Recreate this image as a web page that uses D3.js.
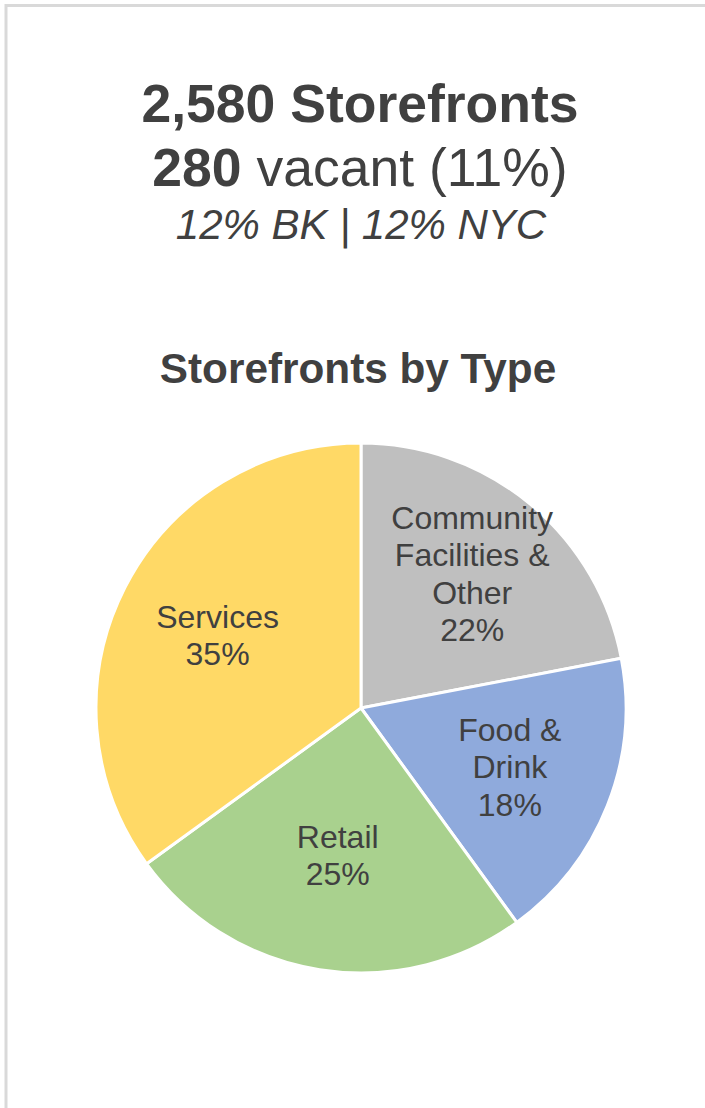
<!DOCTYPE html>
<html>
<head>
<meta charset="utf-8">
<script src="https://cdn.jsdelivr.net/npm/d3@7"></script>
<style>
  html, body { margin: 0; padding: 0; background: #fff; }
  svg { display: block; }
</style>
</head>
<body>
<div id="chart"></div>
<script>
// Storefront mix, share of all storefronts (%)
const categories = ["Community Facilities & Other", "Food & Drink", "Retail", "Services"];
const shares = [22, 18, 25, 35];
const labelLines = [["Community", "Facilities &", "Other"], ["Food &", "Drink"], ["Retail"], ["Services"]];
const sliceColors = ["#BFBFBF", "#8FAADC", "#A9D18E", "#FFD966"];

const totalStorefronts = "2,580";
const vacantCount = "280";
const vacantRate = "11%";
const comparisonLine = "12% BK | 12% NYC";
const pieTitle = "Storefronts by Type";

const W = 705, H = 1108;
const textColor = "#404040";
const font = "'Liberation Sans', Arial, sans-serif";

const svg = d3.select("#chart").append("svg")
  .attr("width", W).attr("height", H);

svg.append("rect").attr("width", W).attr("height", H).attr("fill", "#fff");

// panel frame (top and left rules)
svg.append("line").attr("x1", 5).attr("x2", W).attr("y1", 5.5).attr("y2", 5.5)
  .attr("stroke", "#d9d9d9").attr("stroke-width", 3);
svg.append("line").attr("x1", 6).attr("x2", 6).attr("y1", 4).attr("y2", H)
  .attr("stroke", "#d9d9d9").attr("stroke-width", 3);

const cx = 360;

// headline block
svg.append("text").attr("x", cx).attr("y", 122)
  .attr("text-anchor", "middle").attr("font-family", font)
  .attr("font-size", 53.5).attr("font-weight", "bold").attr("fill", textColor)
  .text(`${totalStorefronts} Storefronts`);

const h2 = svg.append("text").attr("x", cx).attr("y", 186)
  .attr("text-anchor", "middle").attr("font-family", font)
  .attr("font-size", 53.5).attr("fill", textColor);
h2.append("tspan").attr("font-weight", "bold").text(vacantCount);
h2.append("tspan").text(` vacant (${vacantRate})`);

svg.append("text").attr("x", cx + 1).attr("y", 239)
  .attr("text-anchor", "middle").attr("font-family", font)
  .attr("font-size", 42).attr("font-style", "italic").attr("fill", textColor)
  .text(comparisonLine);

svg.append("text").attr("x", 358).attr("y", 383)
  .attr("text-anchor", "middle").attr("font-family", font)
  .attr("font-size", 42.3).attr("font-weight", "bold").attr("fill", textColor)
  .text(pieTitle);

// pie
const R = 265;
const pieCenter = { x: 361, y: 708 };

const pie = d3.pie().value(d => d.value).sort(null);
const data = categories.map((c, i) => ({ name: c, value: shares[i], lines: labelLines[i], color: sliceColors[i] }));
const arcs = pie(data);

const arc = d3.arc().innerRadius(0).outerRadius(R);

const g = svg.append("g").attr("transform", `translate(${pieCenter.x},${pieCenter.y})`);

g.selectAll("path.slice").data(arcs).join("path")
  .attr("class", "slice")
  .attr("d", arc)
  .attr("fill", d => d.data.color)
  .attr("stroke", "#fff")
  .attr("stroke-width", 3)
  .attr("stroke-linejoin", "round");

// inside labels: block centred on the slice's mid-angle ray; bigger
// blocks sit a little further out so they stay clear of the centre
const labelSize = 32;
const lineH = 37.5;
const capH = 0.716 * labelSize;

const labels = g.selectAll("text.lbl").data(arcs).join("text")
  .attr("class", "lbl")
  .attr("text-anchor", "middle")
  .attr("font-family", font)
  .attr("font-size", labelSize)
  .attr("fill", textColor);

labels.each(function(d) {
  const rows = d.data.lines.concat([`${d.data.value}%`]);
  const n = rows.length;
  const t = d3.select(this);
  const firstBase = -((n - 1) * lineH - capH) / 2;
  rows.forEach((r, i) => {
    t.append("tspan").attr("x", 0).attr("y", firstBase + i * lineH).text(r);
  });
  const w = this.getBBox().width;
  const h = (n - 1) * lineH + capH;
  const mid = (d.startAngle + d.endAngle) / 2;
  const s = Math.sin(mid), c = Math.cos(mid);
  const ext = (w / 2) * Math.abs(s) + (h / 2) * Math.abs(c);
  const r = R - 130 + 0.38 * ext;
  t.attr("transform", `translate(${r * s},${-r * c})`);
});
</script>
</body>
</html>
